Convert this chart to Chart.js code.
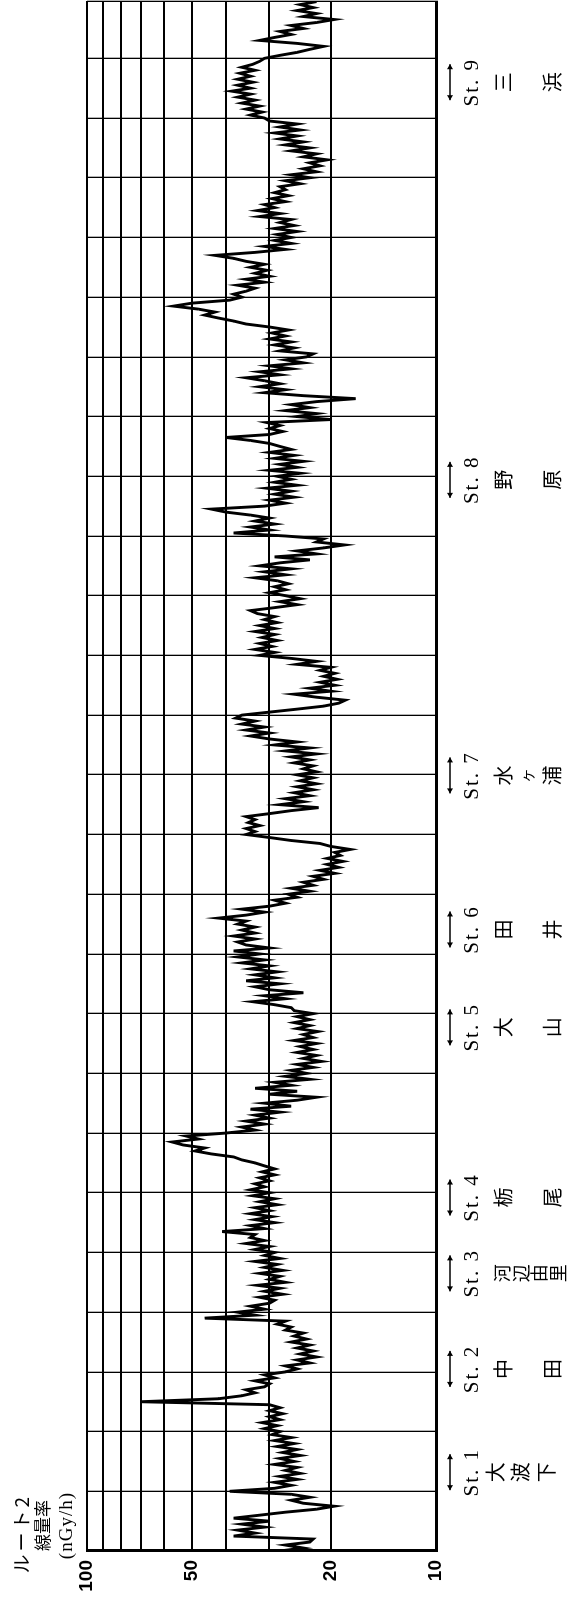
<!DOCTYPE html>
<html>
<head>
<meta charset="utf-8">
<script src="https://cdn.jsdelivr.net/npm/chart.js@4.4.0/dist/chart.umd.min.js"></script>
<style>
html, body { margin: 0; padding: 0; background: #fff; overflow: hidden; }
#wrap { position: absolute; left: 0; top: 0; width: 1606px; height: 582px;
  transform-origin: 0 0; transform: translateY(1606px) rotate(-90deg); }
</style>
</head>
<body>
<div id="wrap"><canvas id="chart1" width="1606" height="582"></canvas></div>
<script>
// distance along the route, one grid cell = 1 unit, sampled every STEP
var STEP = 0.05;
var doseRate = [
  28, 24, 27, 23, 22.5, 38, 33, 37, 31, 36, 30, 38, 32, 27, 22, 19.6, 24, 26, 23, 26,
  39, 29, 26, 29, 25, 28, 24.5, 27, 25, 29, 25.5, 28, 24.5, 27.5, 25, 28.5, 25.5, 29, 26, 29.5,
  28, 31, 28.5, 31.5, 28, 30, 27.5, 30, 28, 30, 70, 42, 36, 33, 35, 31, 30, 33, 29, 31,
  27, 25, 27, 23, 25, 22, 24.5, 22.5, 25, 23, 26, 23.5, 25.5, 24, 27, 26, 28.5, 27, 46, 33,
  37, 31, 34, 30, 29, 32, 27.5, 31, 28, 32.5, 27, 30, 28, 32, 27.5, 31, 28.5, 33, 28, 31,
  29, 33, 30, 35, 31, 34, 33, 41, 31, 34, 29, 33, 29.5, 34, 30, 33, 28.5, 32, 29, 33.5,
  30, 34, 31, 33, 30, 32, 29, 31.5, 29, 31, 33, 36, 38, 44, 49, 46, 53, 57, 48, 52,
  40, 33, 36, 31, 35, 30, 33, 28, 34, 26, 31, 25, 22, 30, 25, 33, 26, 29, 23, 27,
  23.5, 26, 22.5, 25, 21.3, 24, 22, 25, 22.5, 24.5, 22, 25.5, 22.5, 24, 21.8, 25, 23, 25.5, 23, 25,
  22.5, 25.5, 26, 29, 33.5, 27, 31, 24, 30, 33, 28, 35, 29, 33, 28.5, 34, 30, 36, 31, 37,
  32, 38, 30, 35, 37, 33, 38, 33, 36, 33, 37, 35, 42, 35, 31, 36, 30, 27, 29, 25,
  26.5, 23, 26, 22.5, 24, 21, 22.5, 19.5, 21.5, 19, 20.5, 18.5, 20.5, 18.8, 19.5, 17.6, 20, 21.5, 26, 30,
  35, 33, 35, 32, 34.5, 33, 35, 30, 26, 21.7, 28, 24, 27, 23, 25.5, 22.5, 25, 22, 24.5, 22.5,
  25, 22, 24, 22.5, 25.5, 23, 26, 22, 27, 23, 29, 25, 30, 34, 30, 35, 31, 36, 33, 37.5,
  36, 30, 25, 21, 19, 18.2, 22, 25.5, 20, 23, 19.5, 21.5, 19.2, 21, 19.5, 21.5, 20, 25, 22, 26,
  32, 29, 33, 29.5, 32, 28.5, 31.5, 29, 33, 29, 32, 28.5, 31, 29, 32.5, 34, 29, 25, 28, 24.5,
  27, 30, 27, 29, 26.5, 28.5, 33, 27, 31, 26, 32, 28, 23, 29, 22, 25, 21, 18.3, 22, 21,
  27, 38, 30, 34, 29, 33, 30, 34, 40, 44, 31, 27, 30, 25.5, 29, 26, 30.5, 25, 29, 26,
  28.5, 24.5, 30, 25, 28, 24, 29, 25.5, 30, 26, 28, 30, 34, 40, 30, 27.5, 30, 28, 30.5, 20,
  25, 22, 27, 23, 26, 22, 17, 24, 31, 27, 32, 28, 31, 35, 28, 32, 26, 30, 24, 27,
  23.5, 22.5, 28, 25.5, 29, 26, 30, 27, 29.5, 26.5, 30, 35, 38, 42, 46, 43, 48, 56.5, 50, 39,
  36, 38, 35, 33, 37, 31, 35, 30, 33, 30.5, 34, 31, 35, 38, 43, 33, 27, 31, 26, 29,
  26, 28.5, 25, 29, 25.5, 28, 26, 32, 28, 32.5, 29, 31, 27, 29.5, 26.5, 29, 27, 28, 24.5, 27,
  23, 26, 22, 24, 21.5, 23, 20.5, 24, 22, 26, 23, 27, 24, 28, 25, 29, 24.5, 28, 25, 30,
  31, 34, 31.5, 35, 32, 36, 33, 37, 34, 38.5, 34, 37, 33.5, 37, 34, 36.5, 33, 36, 33.5, 32,
  31, 28, 25, 23, 21, 25, 32, 29, 26, 28, 24, 26, 22, 19.6, 24, 22, 25, 22.5, 24.5, 22
];
var doseGrid = [10, 20, 30, 40, 50, 60, 70, 80, 90, 100];
var doseTicks = [10, 20, 50, 100];
var routeEnd = 25.96;

var stationNames = ['St. 1', 'St. 2', 'St. 3', 'St. 4', 'St. 5', 'St. 6', 'St. 7', 'St. 8', 'St. 9'];
var stationPos = [1.32, 3.05, 4.65, 5.92, 8.77, 10.41, 12.99, 17.94, 24.6];
var stationKanji = [['大', '波', '下'], ['中', '', '田'], ['河', '辺', '由', '里'], ['栃', '', '尾'],
  ['大', '', '山'], ['田', '', '井'], ['水', 'ヶ', '浦'], ['野', '', '原'], ['三', '', '浜']];

var points = [];
for (var i = 0; i < doseRate.length; i++) {
  points.push({ x: i * STEP, y: doseRate[i] });
}

var stationPlugin = {
  id: 'stations',
  afterDraw: function (chart) {
    var ctx = chart.ctx, xs = chart.scales.x, base = chart.chartArea.bottom;
    ctx.save();
    ctx.fillStyle = '#000';
    ctx.strokeStyle = '#000';
    for (var i = 0; i < stationPos.length; i++) {
      var cx = xs.getPixelForValue(stationPos[i]);
      // double arrow
      var ay = base + 14, h = 18;
      ctx.lineWidth = 1.6;
      ctx.beginPath();
      ctx.moveTo(cx - h, ay); ctx.lineTo(cx + h, ay);
      ctx.stroke();
      ctx.beginPath();
      ctx.moveTo(cx - h, ay); ctx.lineTo(cx - h + 5, ay - 3); ctx.lineTo(cx - h + 5, ay + 3); ctx.closePath();
      ctx.moveTo(cx + h, ay); ctx.lineTo(cx + h - 5, ay - 3); ctx.lineTo(cx + h - 5, ay + 3); ctx.closePath();
      ctx.fill();

      ctx.textAlign = 'center';
      ctx.textBaseline = 'middle';
      ctx.font = '21px "Liberation Serif"';
      ctx.letterSpacing = '2px';
      ctx.fillText(stationNames[i], cx, base + 36);
      ctx.letterSpacing = '0px';

      var k = stationKanji[i];
      var rows = k.length === 4 ? [66, 85, 103, 122] : (i === 0 ? [59, 84, 110] : [67, 91, 116]);
      for (var j = 0; j < k.length; j++) {
        if (!k[j]) continue;
        ctx.font = (k[j] === 'ヶ' ? '15px' : (k.length === 4 ? '18px' : '20px')) + ' "Noto Sans CJK JP"';
        ctx.fillText(k[j], cx, base + rows[j]);
      }
    }
    // axis title
    ctx.textAlign = 'right';
    ctx.textBaseline = 'middle';
    ctx.font = '19px "Noto Sans CJK JP"';
    ctx.letterSpacing = '3px';
    ctx.fillText('ルート2', 112, 22);
    ctx.letterSpacing = '0px';
    ctx.font = '17px "Noto Sans CJK JP"';
    ctx.fillText('線量率', 106, 43);
    ctx.font = '19px "Liberation Serif"';
    ctx.letterSpacing = '1px';
    ctx.fillText('(nGy/h)', 114, 67);
    ctx.restore();
  }
};

var ctx = document.getElementById('chart1').getContext('2d');
var Chart1 = new Chart(ctx, {
  type: 'line',
  data: {
    datasets: [{
      data: points,
      borderColor: '#000',
      borderWidth: 2.9,
      pointRadius: 0,
      tension: 0,
      fill: false
    }]
  },
  options: {
    responsive: false,
    animation: false,
    devicePixelRatio: 1,
    layout: { padding: { top: 87, right: 1, left: 0, bottom: 0 } },
    plugins: { legend: { display: false }, tooltip: { enabled: false } },
    scales: {
      x: {
        type: 'linear',
        min: 0,
        max: routeEnd,
        ticks: { display: false, stepSize: 1 },
        grid: { color: '#000', lineWidth: 1.3, drawTicks: false },
        border: { display: true, color: '#000', width: 3 },
        afterFit: function (scale) { scale.height = 146; }
      },
      y: {
        type: 'logarithmic',
        min: 10,
        max: 100,
        afterBuildTicks: function (scale) {
          scale.ticks = doseGrid.map(function (v) { return { value: v }; });
        },
        ticks: {
          autoSkip: false,
          padding: 9,
          color: '#000',
          font: { family: '"Liberation Sans"', size: 19, weight: 'bold' },
          callback: function (v) { return doseTicks.indexOf(v) >= 0 ? String(v) : ''; }
        },
        grid: { color: '#000', lineWidth: 2, drawTicks: false },
        border: { display: true, color: '#000', width: 3 },
        afterFit: function (scale) { scale.width = 55; }
      }
    }
  },
  plugins: [stationPlugin]
});
</script>
</body>
</html>
